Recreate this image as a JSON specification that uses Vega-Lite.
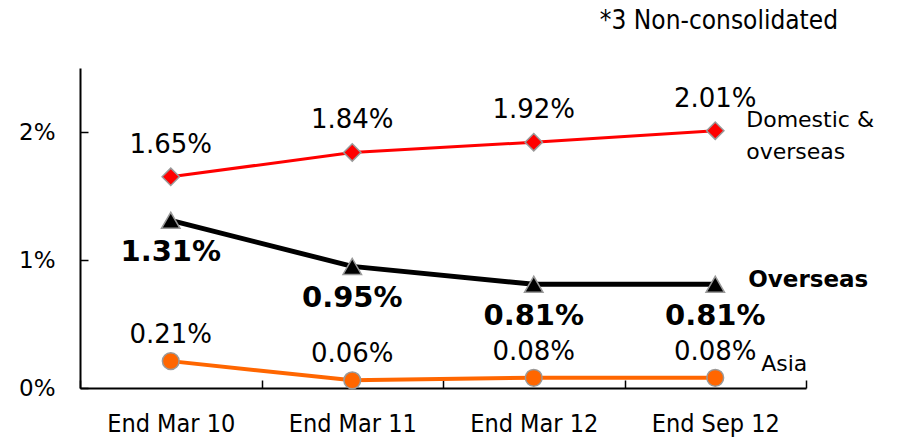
{
  "$schema": "https://vega.github.io/schema/vega-lite/v6.json",
  "width": 726,
  "height": 320,
  "autosize": {"type": "none"},
  "padding": {"left": 80, "top": 68, "right": 93, "bottom": 51},
  "background": "white",
  "title": {
    "text": "*3 Non-consolidated",
    "anchor": "end",
    "frame": "group",
    "dx": 32,
    "offset": 34,
    "font": "DejaVu Sans Condensed",
    "fontSize": 26,
    "fontWeight": "normal",
    "color": "#000000"
  },
  "config": {
    "view": {"stroke": null},
    "axis": {"grid": false}
  },
  "data": {
    "values": [
      {"period": "End Mar 10", "series": "Domestic & overseas", "value": 0.0165},
      {"period": "End Mar 11", "series": "Domestic & overseas", "value": 0.0184},
      {"period": "End Mar 12", "series": "Domestic & overseas", "value": 0.0192},
      {"period": "End Sep 12", "series": "Domestic & overseas", "value": 0.0201},
      {"period": "End Mar 10", "series": "Overseas", "value": 0.0131},
      {"period": "End Mar 11", "series": "Overseas", "value": 0.0095},
      {"period": "End Mar 12", "series": "Overseas", "value": 0.0081},
      {"period": "End Sep 12", "series": "Overseas", "value": 0.0081},
      {"period": "End Mar 10", "series": "Asia", "value": 0.0021},
      {"period": "End Mar 11", "series": "Asia", "value": 0.0006},
      {"period": "End Mar 12", "series": "Asia", "value": 0.0008},
      {"period": "End Sep 12", "series": "Asia", "value": 0.0008}
    ]
  },
  "encoding": {
    "x": {
      "field": "period",
      "type": "nominal",
      "sort": null,
      "scale": {"paddingInner": 0, "paddingOuter": 0},
      "axis": {
        "title": null,
        "labelAngle": 0,
        "tickBand": "extent",
        "domainColor": "#000000",
        "domainWidth": 2,
        "tickColor": "#000000",
        "tickWidth": 1.5,
        "tickSize": -8,
        "labelPadding": 43,
        "labelFont": "DejaVu Sans Condensed",
        "labelFontSize": 25,
        "labelColor": "#000000",
        "labelBaseline": "middle"
      }
    },
    "y": {
      "field": "value",
      "type": "quantitative",
      "scale": {"domain": [0, 0.025], "nice": false},
      "axis": {
        "title": null,
        "values": [0, 0.01, 0.02],
        "format": ".0%",
        "domainColor": "#000000",
        "domainWidth": 2,
        "tickColor": "#000000",
        "tickWidth": 1.5,
        "tickSize": -8,
        "labelPadding": 33,
        "labelFont": "DejaVu Sans",
        "labelFontSize": 23,
        "labelColor": "#000000"
      }
    }
  },
  "layer": [
    {
      "transform": [{"filter": "datum.series === 'Domestic & overseas'"}],
      "mark": {"type": "line", "color": "#FF0000", "strokeWidth": 3}
    },
    {
      "transform": [{"filter": "datum.series === 'Overseas'"}],
      "mark": {"type": "line", "color": "#000000", "strokeWidth": 5}
    },
    {
      "transform": [{"filter": "datum.series === 'Asia'"}],
      "mark": {"type": "line", "color": "#FF6600", "strokeWidth": 4}
    },
    {
      "transform": [{"filter": "datum.series === 'Domestic & overseas'"}],
      "mark": {"type": "point", "shape": "diamond", "size": 300, "filled": true, "fill": "#FF0000", "stroke": "#999999", "strokeWidth": 1.5, "opacity": 1}
    },
    {
      "transform": [{"filter": "datum.series === 'Overseas'"}],
      "mark": {"type": "point", "shape": "triangle-up", "size": 340, "filled": true, "fill": "#000000", "stroke": "#999999", "strokeWidth": 1.5, "opacity": 1}
    },
    {
      "transform": [{"filter": "datum.series === 'Asia'"}],
      "mark": {"type": "point", "shape": "circle", "size": 280, "filled": true, "fill": "#FF6600", "stroke": "#999999", "strokeWidth": 1.5, "opacity": 1}
    },
    {
      "transform": [{"filter": "datum.series === 'Domestic & overseas'"}],
      "mark": {"type": "text", "dy": -32, "font": "DejaVu Sans", "fontSize": 26, "color": "#000000", "baseline": "middle"},
      "encoding": {"text": {"field": "value", "type": "quantitative", "format": ".2%"}}
    },
    {
      "transform": [{"filter": "datum.series === 'Overseas'"}],
      "mark": {"type": "text", "dy": 32, "font": "DejaVu Sans", "fontSize": 29, "fontWeight": "bold", "color": "#000000", "baseline": "middle"},
      "encoding": {"text": {"field": "value", "type": "quantitative", "format": ".2%"}}
    },
    {
      "transform": [{"filter": "datum.series === 'Asia'"}],
      "mark": {"type": "text", "dy": -26, "font": "DejaVu Sans", "fontSize": 26, "color": "#000000", "baseline": "middle"},
      "encoding": {"text": {"field": "value", "type": "quantitative", "format": ".2%"}}
    },
    {
      "transform": [{"filter": "datum.series === 'Domestic & overseas' && datum.period === 'End Sep 12'"}],
      "mark": {"type": "text", "align": "left", "baseline": "middle", "dx": 31, "dy": -11, "lineHeight": 32, "lineBreak": "\n", "font": "DejaVu Sans", "fontSize": 22, "color": "#000000", "text": "Domestic &\noverseas"}
    },
    {
      "transform": [{"filter": "datum.series === 'Overseas' && datum.period === 'End Sep 12'"}],
      "mark": {"type": "text", "align": "left", "baseline": "middle", "dx": 33, "dy": -4, "font": "DejaVu Sans", "fontSize": 23, "fontWeight": "bold", "color": "#000000", "text": "Overseas"}
    },
    {
      "transform": [{"filter": "datum.series === 'Asia' && datum.period === 'End Sep 12'"}],
      "mark": {"type": "text", "align": "left", "baseline": "middle", "dx": 46, "dy": -14, "font": "DejaVu Sans", "fontSize": 22, "color": "#000000", "text": "Asia"}
    }
  ]
}
